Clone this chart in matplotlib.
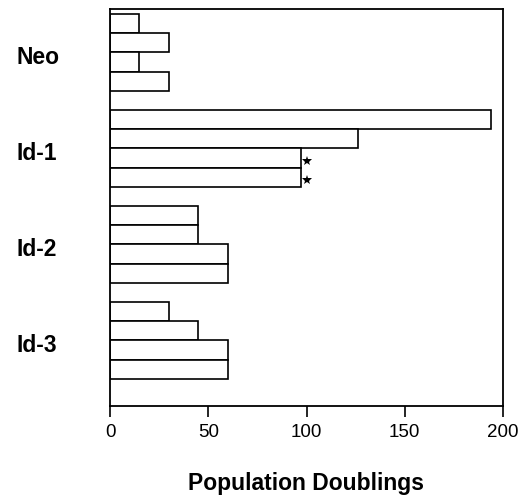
import matplotlib.pyplot as plt
import numpy as np

plt.rcParams['font.family'] = ['Liberation Sans', 'DejaVu Sans']

groups = ['Neo', 'Id-1', 'Id-2', 'Id-3']
values = [[15, 30, 15, 30],
          [194, 126, 97, 97],
          [45, 45, 60, 60],
          [30, 45, 60, 60]]
starred = [(1, 2), (1, 3)]   # (group, bar) marked with a star

fig = plt.figure(figsize=(5.27, 4.95), dpi=100)
ax = fig.add_axes([110/527, 1-406/495, 393/527, 397/495])

pos = []
for g in range(len(groups)):
    for k in range(4):
        pos.append(5*g + k)
vals = np.array(values).ravel()
ax.barh(pos, vals, height=1.0, color='white', edgecolor='black', lw=1.2)

for g, k in starred:
    ax.plot(values[g][k] + 3.5, 5*g + k + 0.15, marker='*', color='black',
            ms=7.5, mew=0)

ax.set_xlim(0, 200)
ax.set_ylim(19.92, -0.76)
ax.set_xticks([0, 50, 100, 150, 200])
ax.tick_params(axis='x', direction='out', length=8, width=1.2, labelsize=13.5, pad=5)

centers = [5*g + 1.5 + 0.15 for g in range(len(groups))]
ax.set_yticks(centers)
ax.set_yticklabels(groups, fontsize=16.5, fontweight='bold', ha='left')
ax.tick_params(axis='y', length=0, pad=67)

for s in ax.spines.values():
    s.set_linewidth(1.3)

ax.set_xlabel('Population Doublings', fontsize=16.5, fontweight='bold', labelpad=22)

fig.savefig('out.png', dpi=100)
